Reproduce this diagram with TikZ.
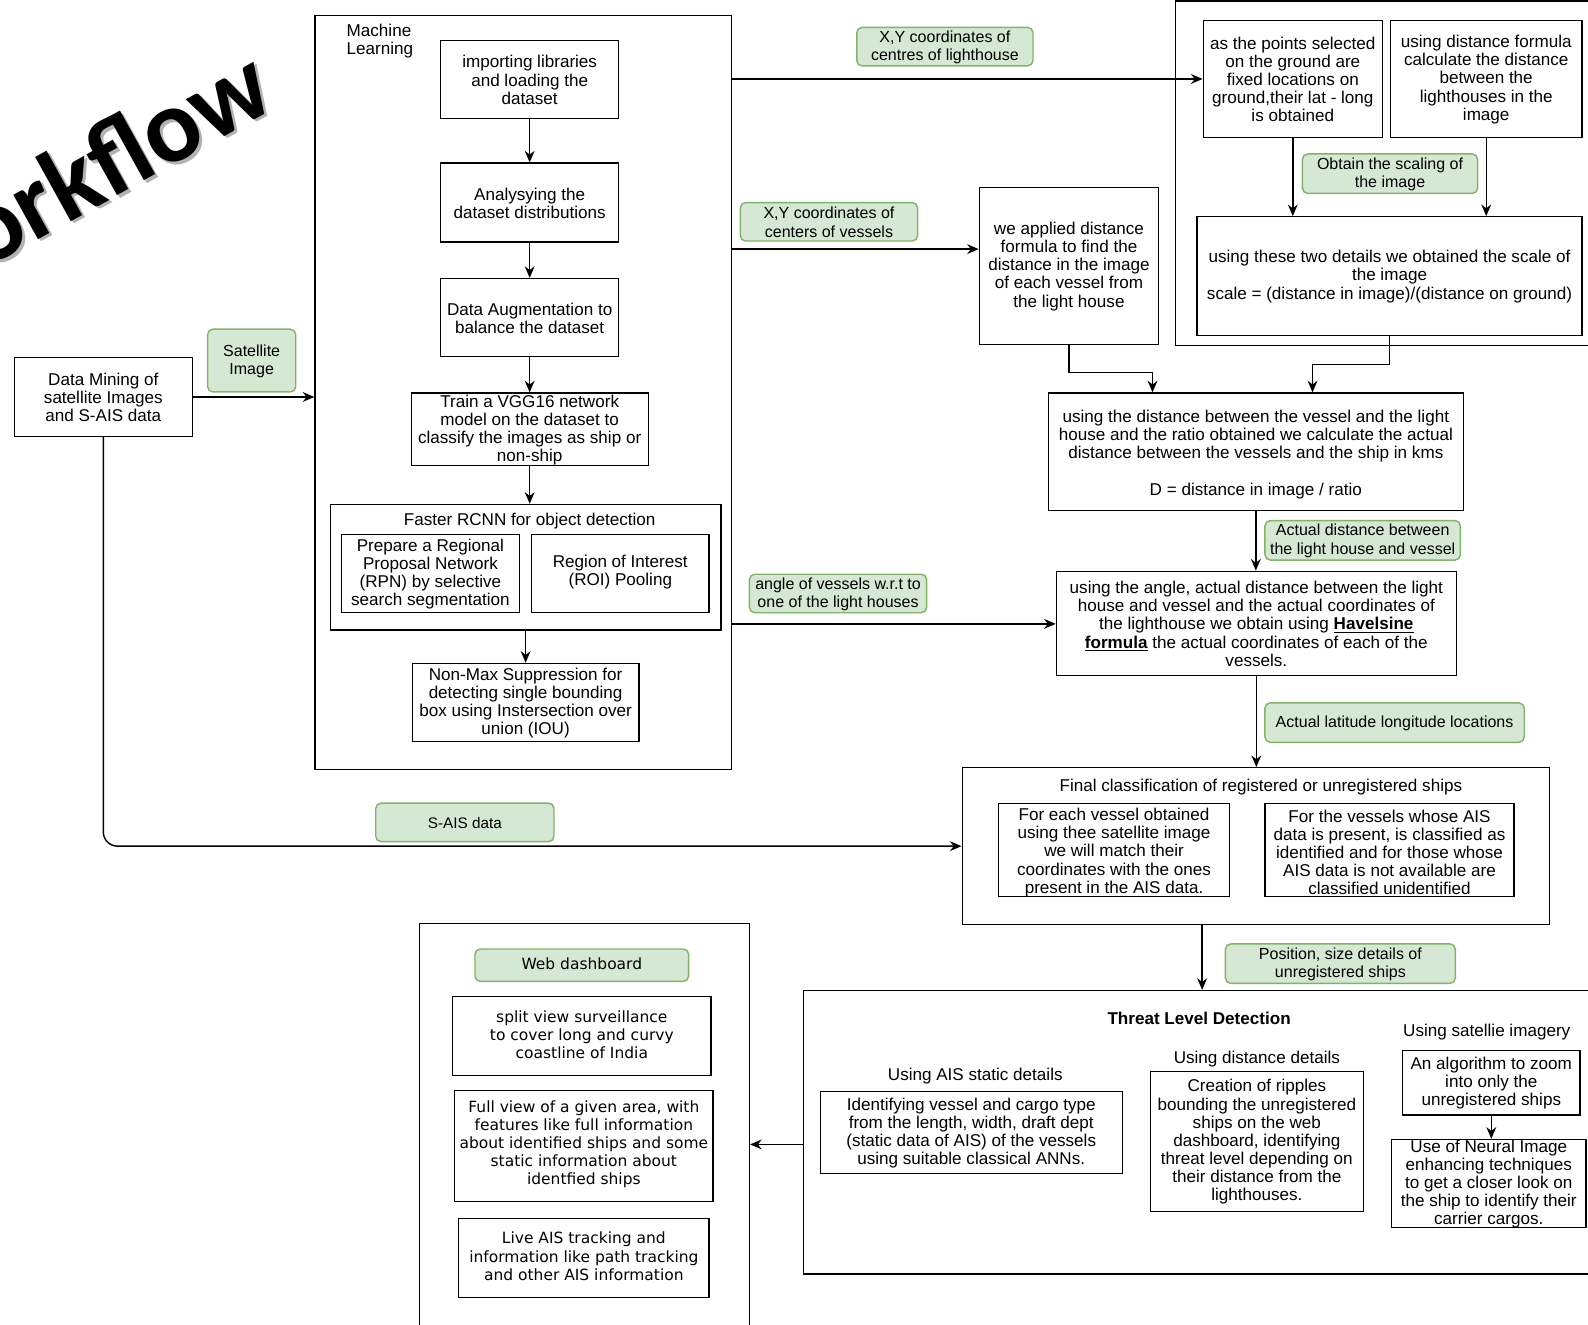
\documentclass[tikz,border=0pt]{standalone}
\usepackage{fontspec}
\setmainfont{Liberation Sans}
\newfontfamily\dvsfont{DejaVu Sans}
\newfontfamily\carlitofont{Carlito}
\usetikzlibrary{arrows.meta,fit,calc}
\definecolor{gfill}{HTML}{D5E8D4}
\definecolor{gline}{HTML}{82B366}
\newcommand\bx[4][]{\node[box, fit={#3}] (#2) {}; \node[txt,#1] (#2t) at (#2.center) {#4};}
\newcommand\lb[4][]{\node[lab, fit={#3}] (#2) {}; \node[txt, font=\fontsize{9}{10.2}\selectfont, #1] (#2t) at (#2.center) {#4};}
\begin{document}
\begin{tikzpicture}[x=0.02cm,y=-0.02cm,
  font=\fontsize{9.6}{10.2}\selectfont,
  box/.style={draw, line width=0.7pt, inner sep=0pt},
  lab/.style={draw=gline, fill=gfill, rounded corners=3pt, line width=0.8pt, inner sep=0pt},
  txt/.style={inner sep=0pt, align=center, yshift=-0.3pt},
  ttl/.style={inner sep=0pt, align=center, yshift=-1.6pt},
  webtxt/.style={font=\dvsfont\fontsize{8.7}{10.2}\selectfont, yshift=1.2pt},
  arr/.style={-{Stealth[length=6.5pt,width=5.5pt]}, line width=0.8pt},
  bigt/.style={font=\carlitofont\bfseries\fontsize{59}{60}\selectfont, rotate=29, anchor=base west, inner sep=0pt}]
\useasboundingbox (0,0) rectangle (1568,1308);

% title
\node[bigt, text=black!30] (titleshadow) at (-13,269) {orkflow};
\node[bigt] (title) at (-15.6,266.6) {orkflow};

% Machine learning container
\node[box, fit={(311,15)(722,760)}] (ml) {};
\node[anchor=north west, align=left, inner sep=0pt] (mltitle) at (342,23) {Machine\\Learning};
\bx{b1}{(435,40)(611,117)}{importing libraries\\and loading the\\dataset}
\bx{b2}{(435,161)(611,239)}{Analysying the\\dataset distributions}
\bx{b3}{(435,275)(611,352)}{Data Augmentation to\\balance the dataset}
\bx{b4}{(406,388)(640,460)}{Train a VGG16 network\\model on the dataset to\\classify the images as ship or\\non-ship}
\node[box, fit={(326,498)(712,622)}] (fr) {};
\node[ttl] (frtitle) at (523,512) {Faster RCNN for object detection};
\bx{rpn}{(337,528)(513,605)}{Prepare a Regional\\Proposal Network\\(RPN) by selective\\search segmentation}
\bx[yshift=-3pt]{roi}{(525,528)(700,605)}{Region of Interest\\(ROI) Pooling\\\mbox{}}
\bx{nms}{(407,655)(631,732)}{Non-Max Suppression for\\detecting single bounding\\box using Instersection over\\union (IOU)}

% data mining
\bx{dm}{(14,353)(190,431)}{Data Mining of\\satellite Images\\and S-AIS data}
\lb{lsat}{(205,325)(292,387)}{Satellite\\Image}

% top right
\node[box, fit={(1161,1)(1600,341)}] (tr) {};
\bx{P}{(1188,20)(1365,136)}{as the points selected\\on the ground are\\fixed locations on\\ground,their lat - long\\is obtained}
\bx{Q}{(1373,20)(1562,136)}{using distance formula\\calculate the distance\\between the\\lighthouses in the\\image}
\bx{R}{(1182,214)(1562,331)}{using these two details we obtained the scale of\\the image\\scale = (distance in image)/(distance on ground)}
\lb{lscale}{(1286,152)(1459,191)}{Obtain the scaling of\\the image}

\bx{V}{(967,185)(1144,340)}{we applied distance\\formula to find the\\distance in the image\\of each vessel from\\the light house}
\bx[yshift=-1.3pt]{D}{(1035,388)(1445,504)}{using the distance between the vessel and the light\\house and the ratio obtained we calculate the actual\\distance between the vessels and the ship in kms\\[10.2pt]D = distance in image / ratio}
\lb{lad}{(1249,514)(1442,553)}{Actual distance between\\the light house and vessel}
\bx{H}{(1043,564)(1438,667)}{using the angle, actual distance between the light\\house and vessel and the actual coordinates of\\the lighthouse we obtain using \textbf{\underline{Havelsine}}\\\textbf{\underline{formula}} the actual coordinates of each of the\\vessels.}
\lb{lll}{(1249,694)(1505,733)}{Actual latitude longitude locations}

\lb{lxy1}{(846,27)(1020,65)}{X,Y coordinates of\\centres of lighthouse}
\lb{lxy2}{(731,200)(906,238)}{X,Y coordinates of\\centers of vessels}
\lb{lang}{(740,567)(915,605)}{angle of vessels w.r.t to\\one of the light houses}

% final classification
\node[box, fit={(950,758)(1530,913)}] (F) {};
\node[ttl] (ftitle) at (1245,774) {Final classification of registered or unregistered ships};
\bx[yshift=-1.3pt]{F1}{(986,793)(1214,885)}{For each vessel obtained\\using thee satellite image\\we will match their\\coordinates with the ones\\present in the AIS data.}
\bx[yshift=-1.3pt]{F2}{(1249,793)(1495,885)}{For the vessels whose AIS\\data is present, is classified as\\identified and for those whose\\AIS data is not available are\\classified unidentified}
\lb[font=\fontsize{8.6}{10.2}\selectfont]{lsais}{(371,793)(547,831)}{S-AIS data}
\lb{lpos}{(1210,932)(1437,971)}{Position, size details of\\unregistered ships}

% threat level detection
\node[box, fit={(793,978)(1600,1258)}] (T) {};
\node[ttl, font=\bfseries\fontsize{9.6}{10.2}\selectfont] (ttitle) at (1184,1003) {Threat Level Detection};
\node[ttl] (ts1) at (963,1060) {Using AIS static details};
\node[ttl] (ts2) at (1241,1043) {Using distance details};
\node[ttl] (ts3) at (1468,1016) {Using satellie imagery};
\bx{T1}{(810,1078)(1108,1159)}{Identifying vessel and cargo type\\from the length, width, draft dept\\(static data of AIS) of the vessels\\using suitable classical ANNs.}
\bx{T2}{(1136,1058)(1346,1196)}{Creation of ripples\\bounding the unregistered\\ships on the web\\dashboard, identifying\\threat level depending on\\their distance from the\\lighthouses.}
\bx{T3}{(1385,1037)(1560,1101)}{An algorithm to zoom\\into only the\\unregistered ships}
\bx{T4}{(1374,1125)(1566,1212)}{Use of Neural Image\\enhancing techniques\\to get a closer look on\\the ship to identify their\\carrier cargos.}

% web dashboard
\node[box, fit={(414,912)(740,1330)}] (W) {};
\lb[webtxt]{lweb}{(469,937)(680,969)}{Web dashboard}
\bx[webtxt]{W1}{(447,984)(702,1062)}{split view surveillance\\to cover long and curvy\\coastline of India}
\bx[webtxt]{W2}{(449,1077)(704,1186)}{Full view of a given area, with\\features like full information\\about identified ships and some\\static information about\\identfied ships}
\bx[webtxt]{W3}{(453,1203)(700,1281)}{Live AIS tracking and\\information like path tracking\\and other AIS information}

% connectors
\draw[arr] (b1) -- (b2);
\draw[arr] (b2) -- (b3);
\draw[arr] (b3.south) -- (b3.south |- b4.north);
\draw[arr] (b4.south) -- (b4.south |- fr.north);
\draw[arr] (nms.north |- fr.south) -- (nms.north);
\draw[arr] (dm.east) -- (dm.east -| ml.west);
\draw[arr, rounded corners=8] (dm.south) |- (F.west);
\draw[arr] (ml.east |- P.west) -- (P.west);
\draw[arr] (ml.east |- 0,246) -- (V.west |- 0,246);
\draw[arr] (ml.east |- 0,616) -- (H.west |- 0,616);
\draw[arr] (P.south) -- (P.south |- R.north);
\draw[arr] (Q.south) -- (Q.south |- R.north);
\draw[arr] (V.south) -- (V.south |- 0,368) -| (D.north -| 1138,0);
\draw[arr] (R.south) -- (R.south |- 0,360) -| (D.north -| 1296,0);
\draw[arr] (D.south) -- (D.south |- H.north);
\draw[arr] (H.south) -- (H.south |- F.north);
\draw[arr] (F.south -| 1187,0) -- (T.north -| 1187,0);
\draw[arr] (T.west |- 0,1130) -- (W.east |- 0,1130);
\draw[arr] (T3.south) -- (T3.south |- T4.north);
\end{tikzpicture}
\end{document}
